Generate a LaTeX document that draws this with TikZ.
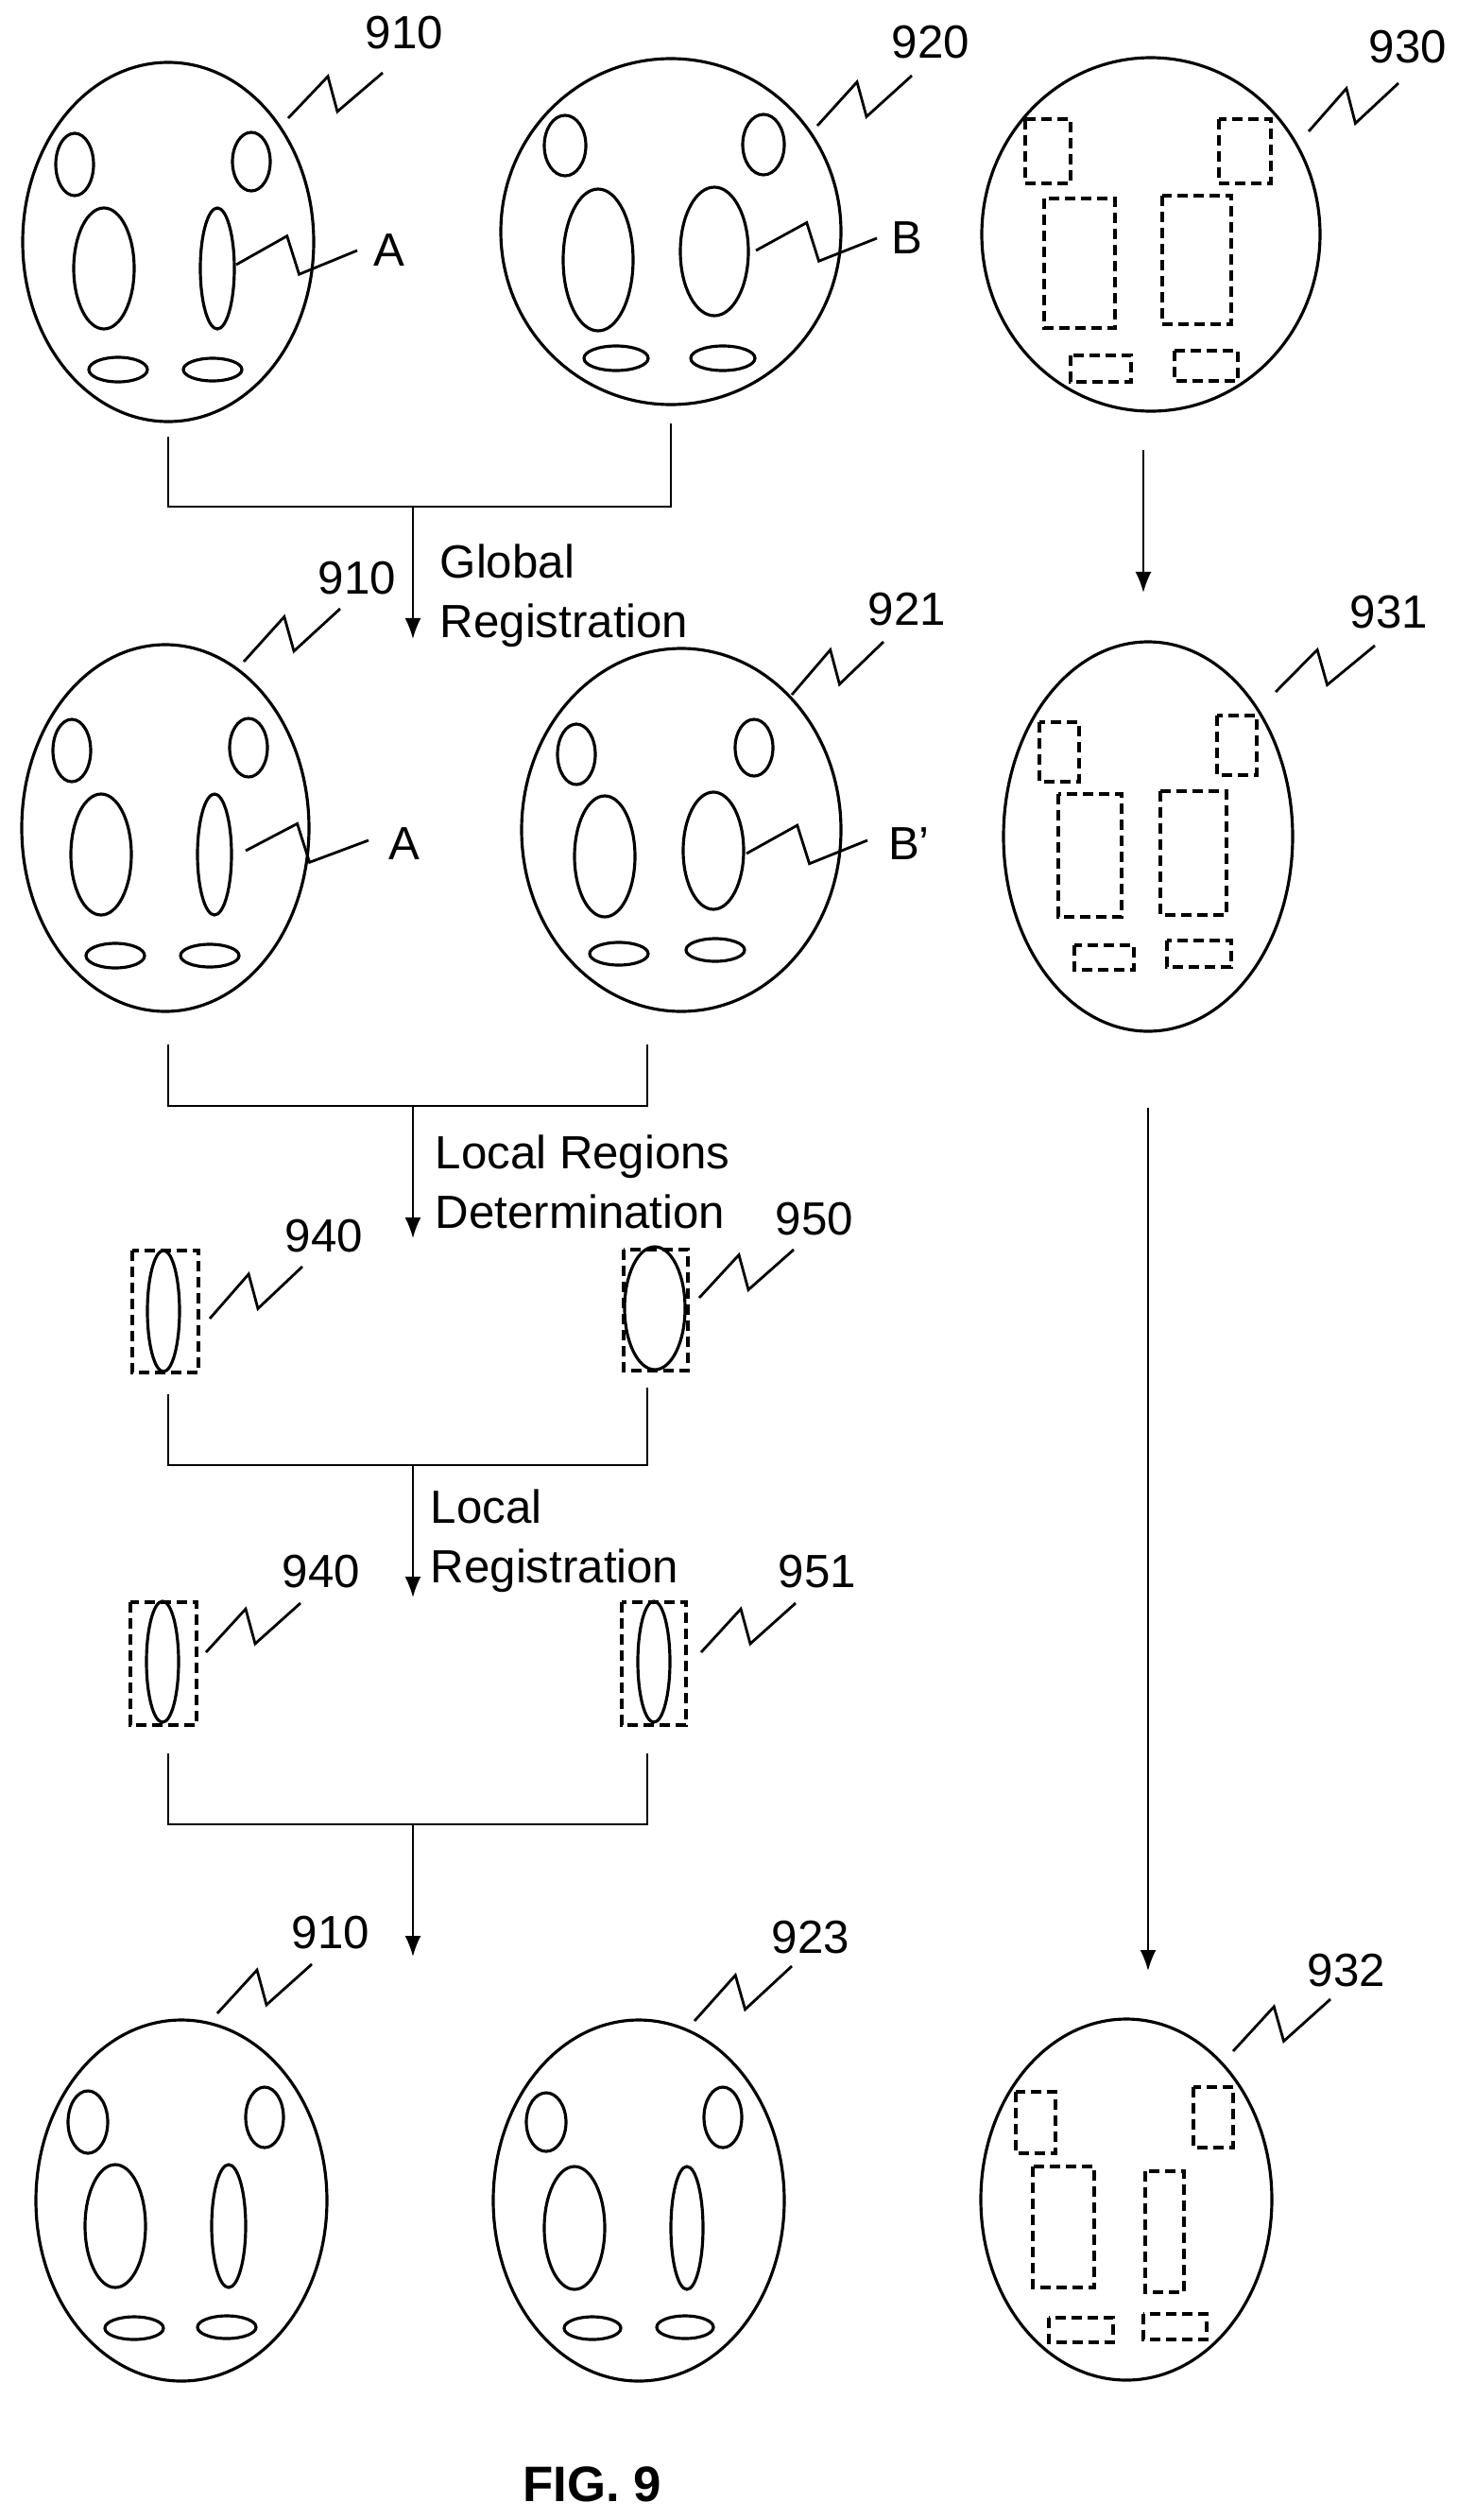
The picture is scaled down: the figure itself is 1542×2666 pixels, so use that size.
\documentclass[tikz,border=0pt]{standalone}
\usepackage{fontspec}
\setmainfont{Liberation Sans}
\usetikzlibrary{arrows.meta,calc}

% feature ellipse and dashed box
\newcommand{\eye}[4]{\draw[feat] (#1,#2) ellipse [x radius=#3, y radius=#4];}
\newcommand{\roibox}[4]{\draw[roi] (#1,#2) rectangle (#3,#4);}
% zigzag leader from #1 to #2
\newcommand{\zz}[2]{\draw[lead] (#1) -- ($(#1)!0.42!(#2)+(0,-24)$) -- ($(#1)!0.52!(#2)+(0,18)$) -- (#2);}
\newcommand{\fullface}[2]{%
  \begin{scope}[shift={(#1,#2)}]
    \eye{-99}{-82}{20}{33}
    \eye{88}{-85}{20}{31}
    \eye{-68}{28}{32}{64}
    \eye{52}{28}{18}{64}
    \eye{-53}{135}{31}{13}
    \eye{47}{135}{31}{12}
  \end{scope}}

\begin{document}
\begin{tikzpicture}[x=0.01cm, y=-0.01cm,
  face/.style={line width=0.9pt},
  feat/.style={line width=0.9pt},
  roi/.style={line width=0.9pt, dash pattern=on 1.1mm off 0.6mm},
  lead/.style={line width=0.8pt},
  link/.style={line width=0.6pt},
  flow/.style={line width=0.6pt, -{Latex[length=2.2mm,width=1.7mm]}},
  lbl/.style={font=\fontsize{14}{16}\selectfont, inner sep=0pt},
  stage/.style={font=\fontsize{14}{18}\selectfont, align=left, anchor=north west, inner sep=0pt}
]
\useasboundingbox (0,0) rectangle (1542,2666);

% Row 1: source images
\draw[face] (178,256) ellipse [x radius=154, y radius=190];
\fullface{178}{256}
\draw[face] (710,245) ellipse [x radius=180, y radius=183];
\eye{598}{154}{22}{32} \eye{808}{153}{22}{32}
\eye{633}{275}{37}{75} \eye{756}{266}{36}{68}
\eye{652}{379}{34}{13} \eye{765}{379}{34}{13}
\draw[face] (1218,248) ellipse [x radius=179, y radius=187];
\roibox{1085}{126}{1133}{194} \roibox{1290}{126}{1345}{194}
\roibox{1105}{210}{1180}{347} \roibox{1230}{207}{1303}{343}
\roibox{1133}{376}{1197}{404} \roibox{1243}{371}{1310}{403}

\coordinate (s910) at (305,125); \coordinate (e910) at (405,77);
\coordinate (s920) at (865,133); \coordinate (e920) at (965,80);
\coordinate (s930) at (1385,139); \coordinate (e930) at (1480,88);
\coordinate (sA) at (250,280); \coordinate (eA) at (378,265);
\coordinate (sB) at (800,265); \coordinate (eB) at (928,252);
\zz{s910}{e910} \zz{s920}{e920} \zz{s930}{e930} \zz{sA}{eA} \zz{sB}{eB}
\node[lbl] (n910) at (428,35) {910};
\node[lbl] (n920) at (985,45) {920};
\node[lbl] (n930) at (1490,50) {930};
\node[lbl] (nA) at (412,265) {A};
\node[lbl] (nB) at (960,252) {B};

% Global registration
\coordinate (b1l) at (178,462); \coordinate (b1r) at (710,448);
\coordinate (b1m) at (437,536); \coordinate (b1e) at (437,676);
\draw[link] (b1l) |- (b1m) -| (b1r);
\draw[flow] (b1m) -- (b1e);
\node[stage] (glob) at (465,575) {Global\\Registration};
\coordinate (r1s) at (1210,476); \coordinate (r1e) at (1210,627);
\draw[flow] (r1s) -- (r1e);

% Row 2: globally registered
\draw[face] (175,876) ellipse [x radius=152, y radius=194];
\fullface{175}{876}
\draw[face] (721,878) ellipse [x radius=169, y radius=192];
\eye{610}{798}{20}{32} \eye{798}{791}{20}{30}
\eye{640}{906}{32}{64} \eye{755}{900}{32}{62}
\eye{655}{1009}{31}{12} \eye{757}{1005}{31}{12}
\draw[face] (1215,885) ellipse [x radius=153, y radius=206];
\roibox{1100}{764}{1142}{827} \roibox{1288}{757}{1330}{820}
\roibox{1120}{840}{1187}{970} \roibox{1228}{837}{1298}{968}
\roibox{1137}{1000}{1200}{1026} \roibox{1235}{995}{1303}{1023}

\coordinate (s910b) at (258,700); \coordinate (e910b) at (360,644);
\coordinate (s921) at (838,735); \coordinate (e921) at (935,679);
\coordinate (s931) at (1350,732); \coordinate (e931) at (1455,683);
\coordinate (sA2) at (260,900); \coordinate (eA2) at (390,889);
\coordinate (sB2) at (790,903); \coordinate (eB2) at (918,889);
\zz{s910b}{e910b} \zz{s921}{e921} \zz{s931}{e931} \zz{sA2}{eA2} \zz{sB2}{eB2}
\node[lbl] (n910b) at (378,612) {910};
\node[lbl] (n921) at (960,645) {921};
\node[lbl] (n931) at (1470,648) {931};
\node[lbl] (nA2) at (428,893) {A};
\node[lbl] (nB2) at (962,893) {B’};

% Local regions determination
\coordinate (b2l) at (178,1105); \coordinate (b2r) at (685,1105);
\coordinate (b2m) at (437,1170); \coordinate (b2e) at (437,1310);
\draw[link] (b2l) |- (b2m) -| (b2r);
\draw[flow] (b2m) -- (b2e);
\node[stage] (locdet) at (460,1200) {Local Regions\\Determination};
\coordinate (r2s) at (1215,1172); \coordinate (r2e) at (1215,2085);
\draw[flow] (r2s) -- (r2e);

\roibox{140}{1323}{210}{1452} \eye{173}{1387}{17}{64}
\roibox{660}{1322}{728}{1450} \eye{693}{1384}{32}{65}
\coordinate (s940) at (222,1395); \coordinate (e940) at (320,1340);
\coordinate (s950) at (740,1373); \coordinate (e950) at (840,1322);
\zz{s940}{e940} \zz{s950}{e950}
\node[lbl] (n940) at (343,1308) {940};
\node[lbl] (n950) at (862,1290) {950};

% Local registration
\coordinate (b3l) at (178,1475); \coordinate (b3r) at (685,1468);
\coordinate (b3m) at (437,1550); \coordinate (b3e) at (437,1690);
\draw[link] (b3l) |- (b3m) -| (b3r);
\draw[flow] (b3m) -- (b3e);
\node[stage] (locreg) at (455,1575) {Local\\Registration};

\roibox{138}{1695}{208}{1825} \eye{172}{1758}{17}{64}
\roibox{658}{1695}{726}{1825} \eye{692}{1758}{17}{64}
\coordinate (s940b) at (218,1748); \coordinate (e940b) at (318,1696);
\coordinate (s951) at (742,1748); \coordinate (e951) at (842,1696);
\zz{s940b}{e940b} \zz{s951}{e951}
\node[lbl] (n940b) at (340,1663) {940};
\node[lbl] (n951) at (865,1663) {951};

% Row 3: result
\coordinate (b4l) at (178,1855); \coordinate (b4r) at (685,1855);
\coordinate (b4m) at (437,1930); \coordinate (b4e) at (437,2070);
\draw[link] (b4l) |- (b4m) -| (b4r);
\draw[flow] (b4m) -- (b4e);

\draw[face] (192,2328) ellipse [x radius=154, y radius=191];
\eye{93}{2245}{21}{33} \eye{280}{2240}{20}{32}
\eye{122}{2355}{32}{65} \eye{242}{2355}{18}{65}
\eye{142}{2463}{31}{12} \eye{240}{2462}{31}{12}
\draw[face] (676,2328) ellipse [x radius=154, y radius=191];
\eye{578}{2245}{21}{31} \eye{765}{2240}{20}{32}
\eye{608}{2357}{32}{65} \eye{727}{2357}{17}{65}
\eye{627}{2463}{30}{12} \eye{725}{2462}{30}{12}
\draw[face] (1192,2327) ellipse [x radius=154, y radius=191];
\roibox{1075}{2213}{1117}{2278} \roibox{1263}{2208}{1305}{2272}
\roibox{1093}{2292}{1158}{2420} \roibox{1212}{2297}{1253}{2425}
\roibox{1110}{2452}{1178}{2478} \roibox{1210}{2448}{1277}{2475}

\coordinate (s910c) at (230,2130); \coordinate (e910c) at (330,2078);
\coordinate (s923) at (735,2138); \coordinate (e923) at (838,2080);
\coordinate (s932) at (1305,2170); \coordinate (e932) at (1408,2115);
\zz{s910c}{e910c} \zz{s923}{e923} \zz{s932}{e932}
\node[lbl] (n910c) at (350,2045) {910};
\node[lbl] (n923) at (858,2050) {923};
\node[lbl] (n932) at (1425,2085) {932};

\node[font=\bfseries\fontsize{15}{18}\selectfont] (fig) at (627,2628) {FIG. 9};
\end{tikzpicture}
\end{document}
